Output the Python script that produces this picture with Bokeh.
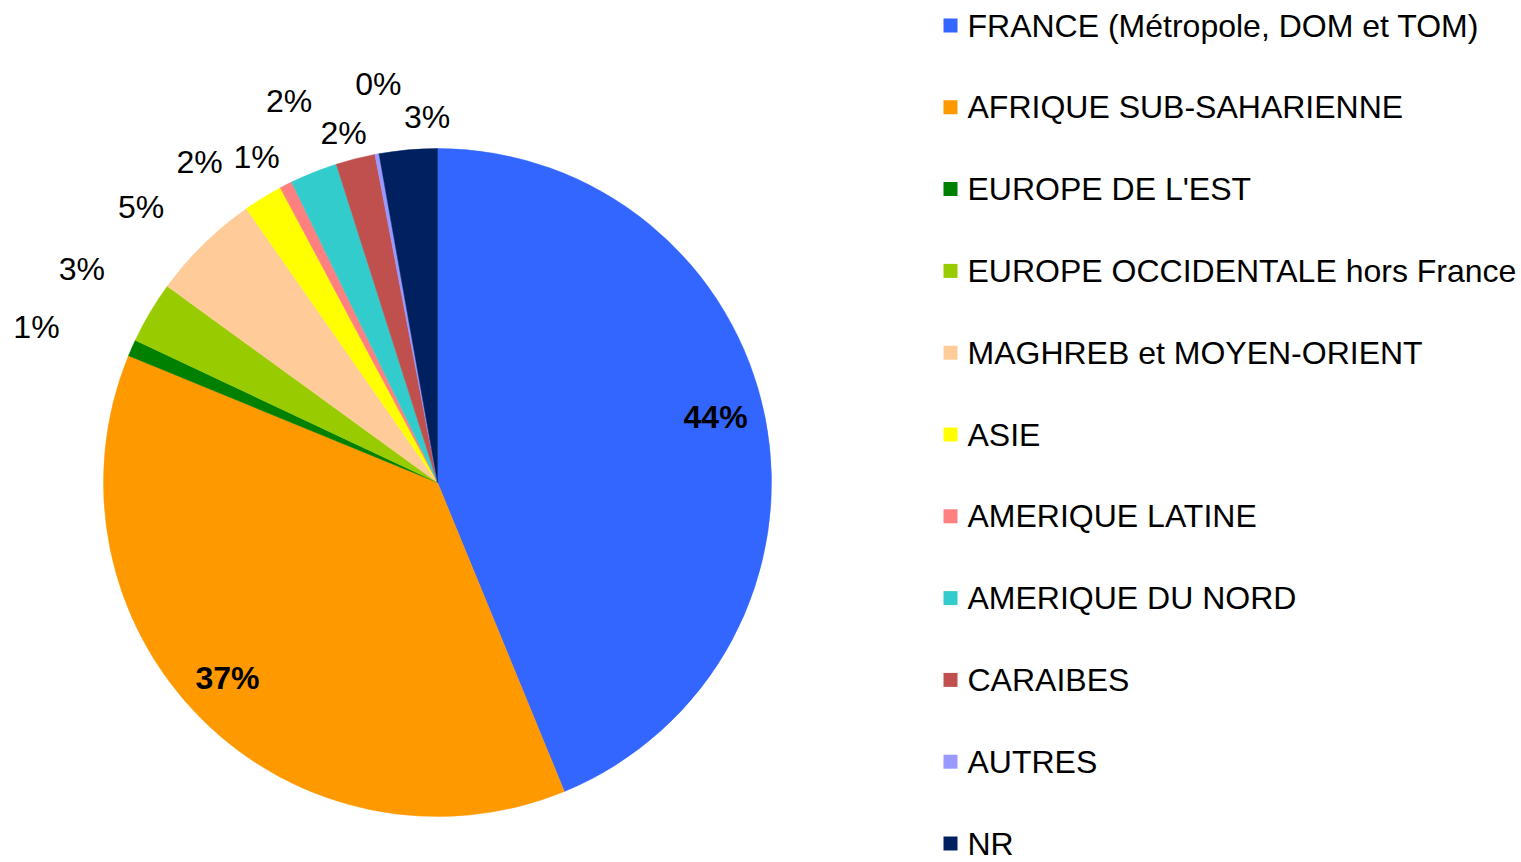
import math
from bokeh.plotting import figure
from bokeh.models import ColumnDataSource, Range1d
from bokeh.core.properties import value
from bokeh.embed import file_html
from bokeh.resources import INLINE

# ---- data ----
categories = ["FRANCE (Métropole, DOM et TOM)", "AFRIQUE SUB-SAHARIENNE", "EUROPE DE L'EST",
              "EUROPE OCCIDENTALE hors France", "MAGHREB et MOYEN-ORIENT", "ASIE",
              "AMERIQUE LATINE", "AMERIQUE DU NORD", "CARAIBES", "AUTRES", "NR"]
shares = [43.8, 37.4, 0.8, 3.0, 5.3, 1.9, 0.6, 2.3, 1.9, 0.2, 2.8]
colors = ["#3366FF", "#FF9900", "#008000", "#99CC00", "#FFCC99", "#FFFF00",
          "#FF8080", "#33CCCC", "#C0504D", "#9999FF", "#002060"]

# ---- layout ----
W, H = 1521, 862
CX, CY, R = 437, H - 482, 334
FONT = value("Liberation Sans")
FS = "32px"
# label placement: inside (fraction of radius) or outside (distance, angular nudge deg)
inside = [True, True] + [False] * 9
lbl_dist = [0.855 * R, 0.86 * R, 430, 415, 405, 399, 372, 409, 362, 403, 366]
lbl_nudge = [2.0, -2.0, 2.6, -0.4, 2.6, 5.1, 2.1, -0.5, 0.8, -2.0, -3.4]

total = sum(shares)
starts, ends, mids = [], [], []
cum = 0.0
for s in shares:
    a0 = cum / total * 2 * math.pi
    cum += s
    a1 = cum / total * 2 * math.pi
    starts.append(math.pi / 2 - a0)
    ends.append(math.pi / 2 - a1)
    mids.append((a0 + a1) / 2)

p = figure(width=W, height=H, output_backend="svg", toolbar_location=None,
           x_range=Range1d(0, W), y_range=Range1d(0, H), min_border=0)
p.axis.visible = False
p.grid.visible = False
p.outline_line_color = None
p.background_fill_color = "white"

src = ColumnDataSource(dict(start=starts, end=ends, color=colors, cat=categories))
p.wedge(x=CX, y=CY, radius=R, start_angle="start", end_angle="end", direction="clock",
        fill_color="color", line_color="color", line_width=0.5, source=src)

# percentage labels
lx, ly, lt = [], [], []
for i, s in enumerate(shares):
    th = mids[i] - math.radians(lbl_nudge[i])
    d = lbl_dist[i]
    lx.append(CX + d * math.sin(th))
    ly.append(CY + d * math.cos(th))
    lt.append(f"{round(s / total * 100)}%")

out_idx = [i for i in range(len(shares)) if not inside[i]]
in_idx = [i for i in range(len(shares)) if inside[i]]
p.text(x=[lx[i] for i in out_idx], y=[ly[i] for i in out_idx], text=[lt[i] for i in out_idx],
       text_align="center", text_baseline="middle", text_font=FONT, text_font_size=FS,
       text_color="black")
p.text(x=[lx[i] for i in in_idx], y=[ly[i] for i in in_idx], text=[lt[i] for i in in_idx],
       text_align="center", text_baseline="middle", text_font=FONT, text_font_size=FS,
       text_font_style="bold", text_color="black")

# legend
LEG_SQ_X, LEG_TX_X, LEG_TOP, LEG_STEP, SQ = 950, 967, H - 25, 81.8, 14
leg_y = [LEG_TOP - i * LEG_STEP for i in range(len(categories))]
p.rect(x=[LEG_SQ_X] * len(categories), y=leg_y, width=SQ, height=SQ,
       fill_color=colors, line_color=None)
p.text(x=[LEG_TX_X] * len(categories), y=leg_y, text=categories,
       text_align="left", text_baseline="middle", text_font=FONT, text_font_size=FS,
       text_color="black")

open("out.html", "w").write(file_html(p, INLINE))
